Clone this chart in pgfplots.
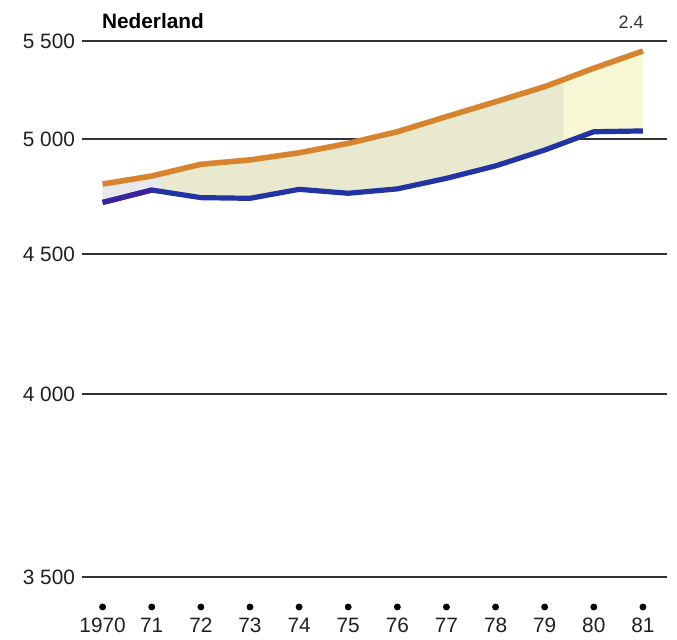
\documentclass[border=0pt]{standalone}
\usepackage{fontspec}
\setmainfont{Liberation Sans}
\usepackage{pgfplots}
\pgfplotsset{compat=1.18}
\usepgfplotslibrary{fillbetween}
\definecolor{orangeline}{HTML}{D8842E}
\definecolor{blueline}{HTML}{2233A6}
\definecolor{purpleline}{HTML}{3B20A0}
\definecolor{fillmid}{HTML}{E9E9D0}
\definecolor{fillright}{HTML}{F8F8D4}
\definecolor{fillleft}{HTML}{E8E8EC}
\newcommand{\ytrafo}[1]{\begingroup\pgfkeys{/pgf/fpu=true,/pgf/fpu/output format=fixed}%
  \pgfmathparse{(#1<4000) ? ((#1-3500)*0.366) : ((#1<4500) ? (183+(#1-4000)*0.28) : ((#1<5000) ? (323+(#1-4500)*0.23) : (438+(#1-5000)*0.196)))}%
  \xdef\ytrafotmp{\pgfmathresult}\endgroup\let\pgfmathresult\ytrafotmp}
\newcommand{\yinvtrafo}[1]{\begingroup\pgfkeys{/pgf/fpu=true,/pgf/fpu/output format=fixed}%
  \pgfmathparse{(#1<183) ? (3500+#1/0.366) : ((#1<323) ? (4000+(#1-183)/0.28) : ((#1<438) ? (4500+(#1-323)/0.23) : (5000+(#1-438)/0.196)))}%
  \xdef\ytrafotmp{\pgfmathresult}\endgroup\let\pgfmathresult\ytrafotmp}
\begin{document}
\begin{tikzpicture}
\begin{axis}[
  set layers,
  scale only axis, width=292.5pt, height=283pt,
  xmin=1969.58, xmax=1981.49,
  ymin=3418, ymax=5500,
  y coord trafo/.code={\ytrafo{#1}},
  y coord inv trafo/.code={\yinvtrafo{#1}},
  ytick={3500,4000,4500,5000,5500},
  yticklabels={3 500,4 000,4 500,5 000,5 500},
  xtick={1970,1971,1972,1973,1974,1975,1976,1977,1978,1979,1980,1981},
  xticklabels={1970,71,72,73,74,75,76,77,78,79,80,81},
  ymajorgrids,
  grid style={line width=0.7pt, color=black!80},
  axis line style={draw=none},
  major tick length=0pt,
  tick label style={font=\fontsize{10.4}{12}\selectfont, text=black!88},
  xticklabel style={yshift=-2pt},
  /pgf/number format/assume math mode=true,
  clip=false,
]
\addplot[name path=U, draw=none, forget plot] coordinates {(1970,4804) (1971,4839) (1972,4890) (1973,4909) (1974,4940) (1975,4981) (1976,5037) (1977,5114) (1978,5190) (1979,5267) (1980,5361) (1981,5449)};
\addplot[name path=L, draw=none, forget plot] coordinates {(1970,4724) (1971,4778) (1972,4745) (1973,4742) (1974,4781) (1975,4764) (1976,4783) (1977,4829) (1978,4883) (1979,4952) (1980,5037) (1981,5041)};
\addplot[fill=fillmid, draw=none] fill between[of=U and L];
\addplot[fill=fillleft, draw=none] fill between[of=U and L, soft clip={(axis cs:1969,3418) rectangle (axis cs:1971.2,5500)}];
\addplot[fill=fillright, draw=none] fill between[of=U and L, soft clip={(axis cs:1979.38,3418) rectangle (axis cs:1982,5500)}];
\addplot[orangeline, line width=2.8pt] coordinates {(1970,4804) (1971,4839) (1972,4890) (1973,4909) (1974,4940) (1975,4981) (1976,5037) (1977,5114) (1978,5190) (1979,5267) (1980,5361) (1981,5449)};
\addplot[blueline, line width=2.6pt] coordinates {(1970,4724) (1971,4778) (1972,4745) (1973,4742) (1974,4781) (1975,4764) (1976,4783) (1977,4829) (1978,4883) (1979,4952) (1980,5037) (1981,5041)};
\addplot[purpleline, line width=2.6pt] coordinates {(1970,4724) (1971,4778)};
\addplot[only marks, mark=*, mark size=1.5pt, black] coordinates {(1970,3418) (1971,3418) (1972,3418) (1973,3418) (1974,3418) (1975,3418) (1976,3418) (1977,3418) (1978,3418) (1979,3418) (1980,3418) (1981,3418)};
\node[anchor=base west, inner sep=0pt, font=\bfseries\fontsize{10.4}{12}\selectfont, yshift=6pt] at (rel axis cs:0.0337,1) {Nederland};
\node[anchor=base east, inner sep=0pt, font=\fontsize{9}{11}\selectfont, text=black!80, yshift=6.3pt] at (rel axis cs:0.9607,1) {2.4};
\end{axis}
\path[use as bounding box] ([xshift=-41pt,yshift=20.5pt]current axis.north west) rectangle ([xshift=5pt,yshift=-14pt]current axis.south east);
\end{tikzpicture}
\end{document}
